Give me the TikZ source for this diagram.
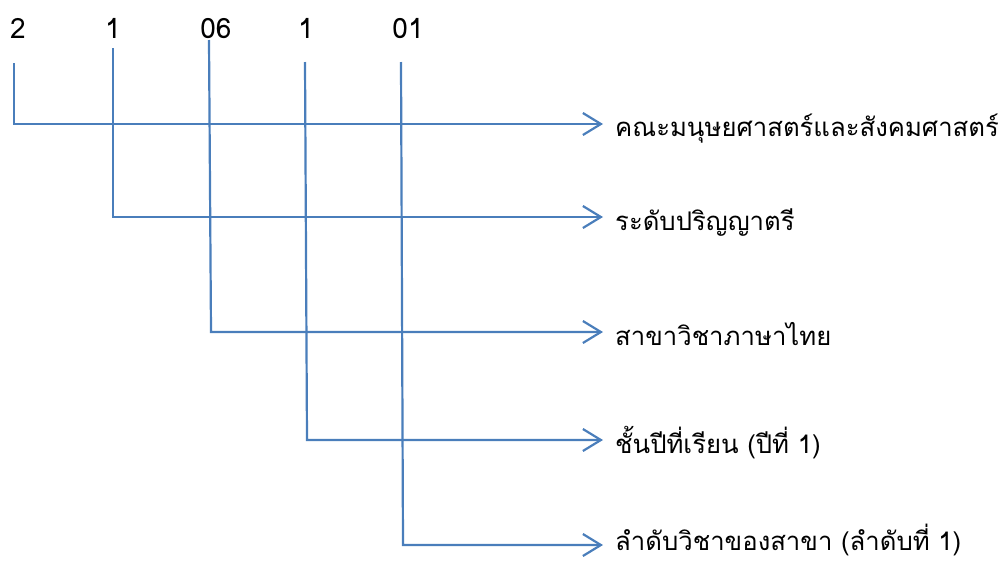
\documentclass[tikz,border=0pt]{standalone}
\usepackage{fontspec}
\newfontfamily\thaifont[Script=Thai]{Loma}
\usetikzlibrary{arrows.meta}
\definecolor{lineblue}{RGB}{74,126,187}
\begin{document}
\begin{tikzpicture}[x=1pt,y=-1pt,
  conn/.style={draw=lineblue, line width=2.2pt},
  arr/.style={conn, -{Straight Barb[length=18pt,width=22pt]}},
  digit/.style={font=\thaifont\fontsize{28}{32}\selectfont, inner sep=0pt, anchor=base},
  lab/.style={font=\thaifont\fontsize{25.7}{30}\selectfont, inner sep=0pt, anchor=base west}]
\useasboundingbox (0,0) rectangle (1006,560);
% digits
\node[digit] (d1) at (18,38) {2};
\node[digit] (d2) at (113,38) {1};
\node[digit] (d3) at (216,38) {06};
\node[digit] (d4) at (306,38) {1};
\node[digit] (d5) at (408,38) {01};
% labels
\node[lab] (l1) at (615,136) {คณะมนุษยศาสตร์และสังคมศาสตร์};
\node[lab] (l2) at (615,230) {ระดับปริญญาตรี};
\node[lab] (l3) at (615,345) {สาขาวิชาภาษาไทย};
\node[lab] (l4) at (615,453) {ชั้นปีที่เรียน (ปีที่ 1)};
\node[lab] (l5) at (615,550) {ลำดับวิชาของสาขา (ลำดับที่ 1)};
% tops of the verticals
\coordinate (t1) at (14,63);
\coordinate (t2) at (113,48);
\coordinate (t3) at (209,40);
\coordinate (t4) at (305,62);
\coordinate (t5) at (401,62);
% connectors
\draw[arr] (t1) |- ([xshift=-12pt]l1.west |- 0,124);
\draw[arr] (t2) |- ([xshift=-12pt]l2.west |- 0,217);
\draw[arr] (t3) -- (211,332) -- ([xshift=-12pt]l3.west |- 0,332);
\draw[arr] (t4) -- (307,440) -- ([xshift=-12pt]l4.west |- 0,440);
\draw[arr] (t5) -- (403,545) -- ([xshift=-12pt]l5.west |- 0,545);
\end{tikzpicture}
\end{document}
